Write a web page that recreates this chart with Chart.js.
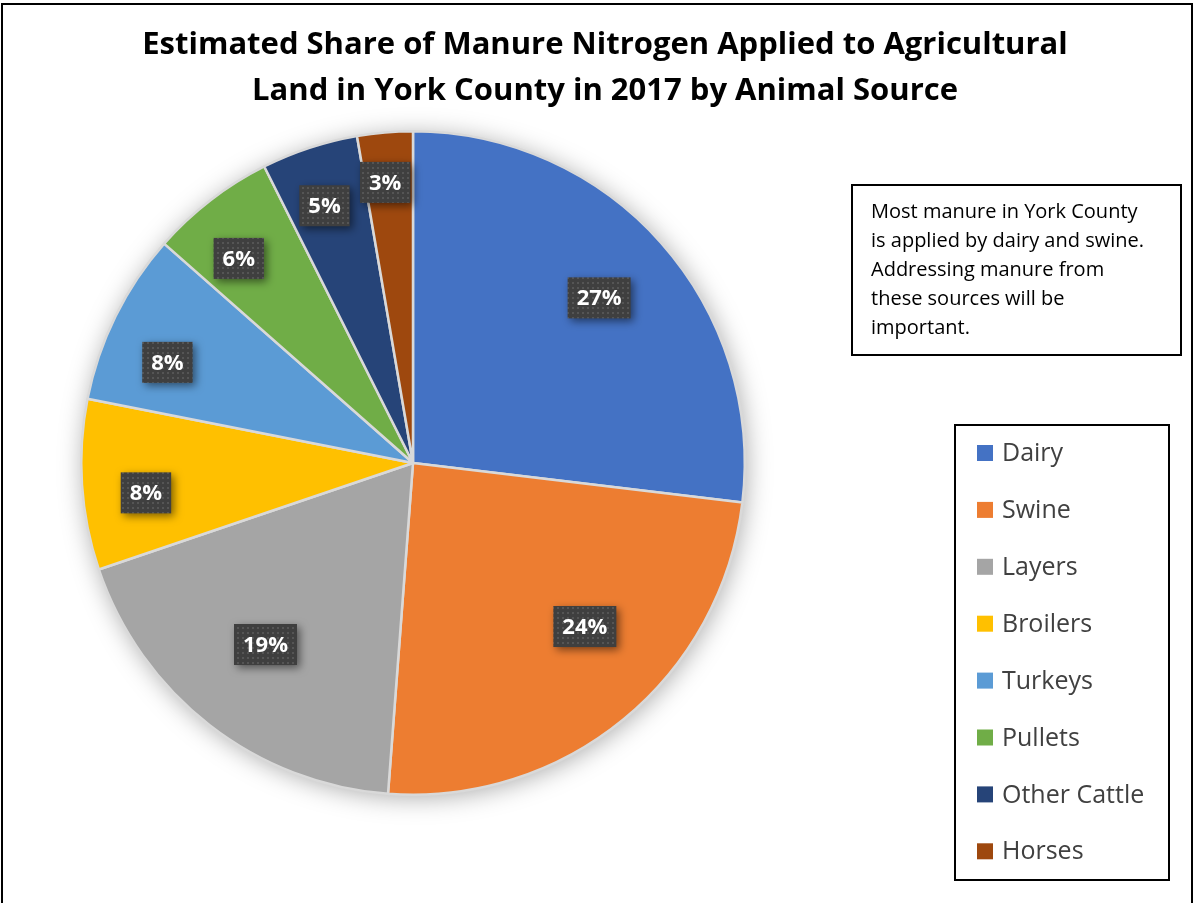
<!DOCTYPE html>
<html>
<head>
<meta charset="utf-8">
<script src="https://cdn.jsdelivr.net/npm/chart.js@4/dist/chart.umd.min.js"></script>
<style>
  html, body { margin: 0; padding: 0; background: #fff; }
  #wrap { width: 1194px; height: 903px; position: relative; }
</style>
</head>
<body>
<div id="wrap"><canvas id="manureChart" width="1194" height="903"></canvas></div>
<script>
// Data
const sources = ['Dairy', 'Swine', 'Layers', 'Broilers', 'Turkeys', 'Pullets', 'Other Cattle', 'Horses'];
const shares = [26.9, 24.3, 18.6, 8.3, 8.4, 6.1, 4.7, 2.7];
const sliceColors = ['#4472C4', '#ED7D31', '#A5A5A5', '#FFC000', '#5B9BD5', '#70AD47', '#264478', '#9E480E'];
const titleLines = ['Estimated Share of Manure Nitrogen Applied to Agricultural', 'Land in York County in 2017 by Animal Source'];
const noteLines = ['Most manure in York County', 'is applied by dairy and swine.', 'Addressing manure from', 'these sources will be', 'important.'];

const FONT = '"Open Sans", Lato, sans-serif';

// dotted dark fill for the data labels
function makeDotPattern(ctx) {
    const p = document.createElement('canvas');
    p.width = 5; p.height = 5;
    const pc = p.getContext('2d');
    pc.fillStyle = '#3f3f3f';
    pc.fillRect(0, 0, 5, 5);
    pc.fillStyle = '#555555';
    pc.fillRect(2, 2, 2, 2);
    return ctx.createPattern(p, 'repeat');
}

const pieShadow = {
    id: 'pieShadow',
    beforeDatasetsDraw(chart) {
        const arc = chart.getDatasetMeta(0).data[0];
        if (!arc) return;
        const ctx = chart.ctx;
        ctx.save();
        ctx.shadowColor = 'rgba(0,0,0,0.35)';
        ctx.shadowBlur = 26;
        ctx.shadowOffsetX = 2;
        ctx.shadowOffsetY = 3;
        ctx.fillStyle = '#fff';
        ctx.beginPath();
        ctx.arc(arc.x, arc.y, arc.outerRadius - 1, 0, Math.PI * 2);
        ctx.fill();
        ctx.restore();
    }
};

const sliceLabels = {
    id: 'sliceLabels',
    afterDatasetsDraw(chart, args, opts) {
        const ctx = chart.ctx;
        const values = chart.data.datasets[0].data;
        const total = values.reduce((a, b) => a + b, 0);
        const pattern = makeDotPattern(ctx);
        chart.getDatasetMeta(0).data.forEach((arc, i) => {
            const mid = (arc.startAngle + arc.endAngle) / 2 + opts.shift[i] * Math.PI / 180;
            const r = arc.outerRadius * opts.radius[i];
            const cx = arc.x + Math.cos(mid) * r;
            const cy = arc.y + Math.sin(mid) * r;
            const txt = Math.round(values[i] / total * 100) + '%';
            ctx.save();
            ctx.font = 'bold 22px ' + FONT;
            const w = ctx.measureText(txt).width + 18;
            const h = 41;
            ctx.shadowColor = 'rgba(0,0,0,0.5)';
            ctx.shadowBlur = 8;
            ctx.shadowOffsetX = 3;
            ctx.shadowOffsetY = 3;
            ctx.fillStyle = pattern;
            ctx.fillRect(cx - w / 2, cy - h / 2, w, h);
            ctx.shadowColor = 'transparent';
            ctx.fillStyle = '#fff';
            ctx.textAlign = 'center';
            ctx.textBaseline = 'middle';
            ctx.fillText(txt, cx, cy + 1);
            ctx.restore();
        });
    }
};

const decorations = {
    id: 'decorations',
    afterDraw(chart) {
        const ctx = chart.ctx;
        ctx.save();
        // outer frame
        ctx.strokeStyle = '#000';
        ctx.lineWidth = 2;
        ctx.beginPath();
        ctx.moveTo(2, 910);
        ctx.lineTo(2, 4);
        ctx.lineTo(1192, 4);
        ctx.lineTo(1192, 910);
        ctx.stroke();

        // title
        ctx.fillStyle = '#000';
        ctx.font = 'bold 31px ' + FONT;
        ctx.textAlign = 'center';
        ctx.textBaseline = 'middle';
        ctx.fillText(titleLines[0], 605, 45);
        ctx.fillText(titleLines[1], 605, 91);

        // note box
        ctx.lineWidth = 2;
        ctx.strokeRect(852, 185, 329, 170);
        ctx.font = '20px ' + FONT;
        ctx.textAlign = 'left';
        noteLines.forEach((line, i) => ctx.fillText(line, 871, 212 + i * 29));

        // legend
        ctx.strokeRect(955, 425, 214, 455);
        ctx.font = '25px ' + FONT;
        chart.data.labels.forEach((lbl, i) => {
            const y = 453 + i * 56.9;
            ctx.fillStyle = chart.data.datasets[0].backgroundColor[i];
            ctx.fillRect(977, y - 8, 16, 16);
            ctx.fillStyle = '#404040';
            ctx.fillText(lbl, 1002, y + 1);
        });
        ctx.restore();
    }
};

new Chart(document.getElementById('manureChart').getContext('2d'), {
    type: 'pie',
    data: {
        labels: sources,
        datasets: [{
            data: shares,
            backgroundColor: sliceColors,
            borderColor: '#d9d9d9',
            borderWidth: 2.5,
            hoverOffset: 0,
            offset: 0
        }]
    },
    options: {
        responsive: false,
        animation: false,
        layout: {
            padding: { left: 80, right: 448, top: 130, bottom: 107 }
        },
        plugins: {
            legend: { display: false },
            title: { display: false },
            tooltip: { enabled: false },
            sliceLabels: {
                radius: [0.75, 0.715, 0.705, 0.81, 0.80, 0.81, 0.82, 0.85],
                shift: [0, -7, 1.3, -2.6, -4, -2.8, -0.8, -0.8]
            }
        }
    },
    plugins: [pieShadow, sliceLabels, decorations]
});
</script>
</body>
</html>
